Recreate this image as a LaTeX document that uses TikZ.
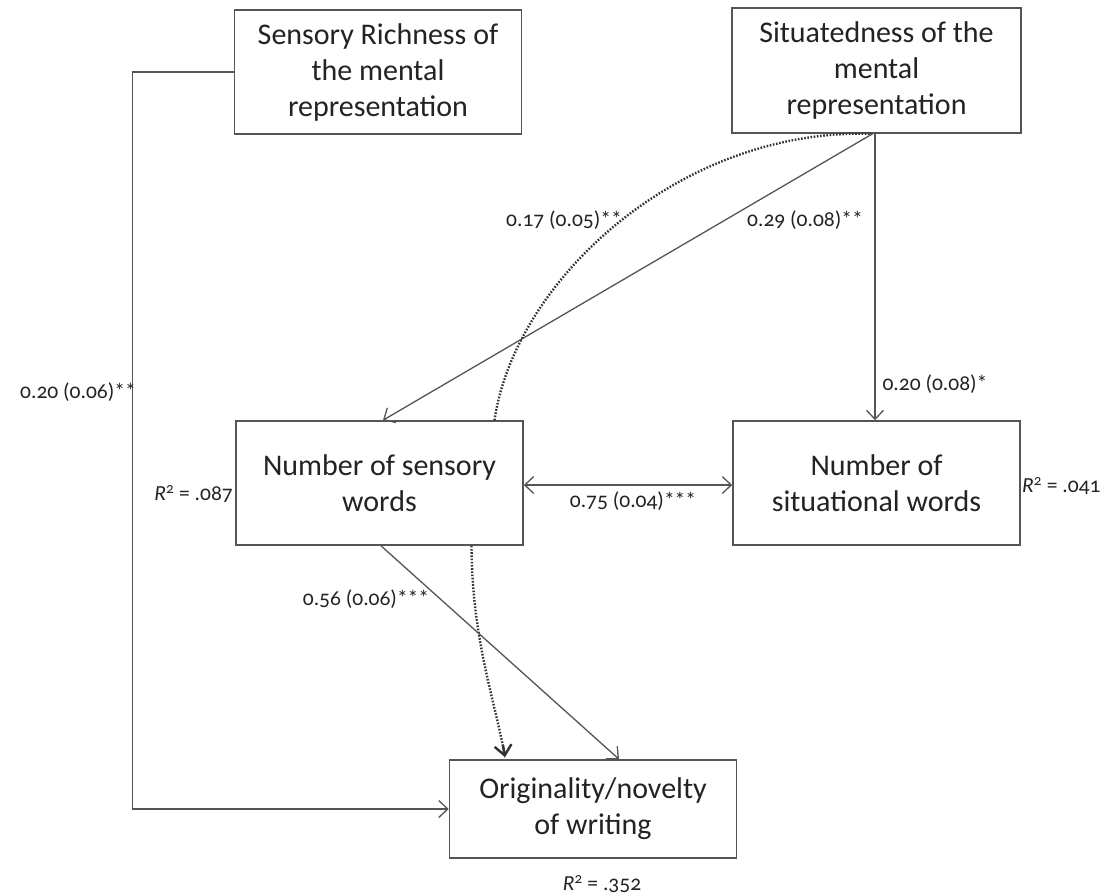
\documentclass[tikz,border=0pt]{standalone}
\usepackage{fontspec}
\setmainfont{Carlito}
\usetikzlibrary{arrows.meta,calc}
\definecolor{linecol}{RGB}{85,85,85}
\definecolor{txtcol}{RGB}{35,35,35}
\begin{document}
\begin{tikzpicture}[x=1pt,y=-1pt,
  box/.style={draw=linecol,line width=1.6pt,minimum width=287pt,minimum height=124pt,
    align=center,inner sep=0pt,text=txtcol,font=\fontsize{30}{36}\selectfont},
  lbl/.style={text=txtcol,inner sep=0pt,font=\fontsize{21.5}{24}\selectfont\addfontfeatures{Numbers=OldStyle}},
  conn/.style={draw=linecol,line width=1.3pt},
  arr/.style={conn,-{Straight Barb[length=9pt,width=17pt,line width=1.3pt]}},
  dotarr/.style={draw=black!80,line width=2.4pt,dash pattern=on 1.6pt off 1.6pt},
]
\useasboundingbox (0,0) rectangle (1107,895);
\fill[white] (0,0) rectangle (1107,895);

\node[box] (sr) at (378,72) {Sensory Richness of\\the mental\\representation};
\node[box,minimum width=289pt,minimum height=125pt] (sit) at (876.5,70.5) {Situatedness of the\\mental\\representation};
\node[box] (nsw) at (379.5,483) {Number of sensory\\words};
\node[box] (nsit) at (876.5,483) {Number of\\situational words};
\node[box,minimum height=98pt] (orig) at (593,809) {Originality/novelty\\of writing};

% direct path sensory richness -> originality
\draw[arr] (sr.west) -- ++(-101,0) |- (orig.west);
% situatedness -> situational words
\draw[arr] ($(sit.south)+(-1.5,0)$) -- (nsit.north -| {$(sit.south)+(-1.5,0)$});
% situatedness -> sensory words
\draw[arr] ($(sit.south)+(-4,0)$) -- ($(nsw.north)+(3.5,0)$);
% indirect path (dotted)
\draw[dotarr] ($(nsw.north)+(115,0)$) .. controls (515,280) and (680,128) .. ($(sit.south)+(-5,0)$);
\draw[dotarr] ($(nsw.south)+(92,0)$) .. controls (472,640) and (495,700) .. ($(orig.north)+(-88,-2)$);
\draw[draw=black!80,line width=2.4pt,-{Straight Barb[length=10pt,width=17pt,line width=2.4pt]}]
  ($(orig.north)+(-90,-14)$) -- ($(orig.north)+(-88,-2)$);
% covariance
\draw[conn,{Straight Barb[length=9pt,width=17pt,line width=1.3pt]}-{Straight Barb[length=9pt,width=17pt,line width=1.3pt]}]
  ($(nsw.east)+(0,2)$) -- ($(nsit.west)+(0,2)$);
% sensory words -> originality
\draw[arr] ($(nsw.south)+(1.5,0)$) -- ($(orig.north)+(26,0)$);

% labels
\node[lbl,anchor=east] (l1) at (136,392) {0.20 (0.06)**};
\node[lbl] (l2) at (564,220) {0.17 (0.05)**};
\node[lbl] (l3) at (805,220) {0.29 (0.08)**};
\node[lbl] (l4) at (935,384) {0.20 (0.08)*};
\node[lbl] (l5) at (633,501) {0.75 (0.04)***};
\node[lbl] (l6) at (366,599) {0.56 (0.06)***};
\node[lbl,anchor=east] (r1) at (233,494) {\textit{R}\textsuperscript{2} = .087};
\node[lbl,anchor=west] (r2) at (1022,486) {\textit{R}\textsuperscript{2} = .041};
\node[lbl] (r3) at (602,884) {\textit{R}\textsuperscript{2} = .352};
\end{tikzpicture}
\end{document}
